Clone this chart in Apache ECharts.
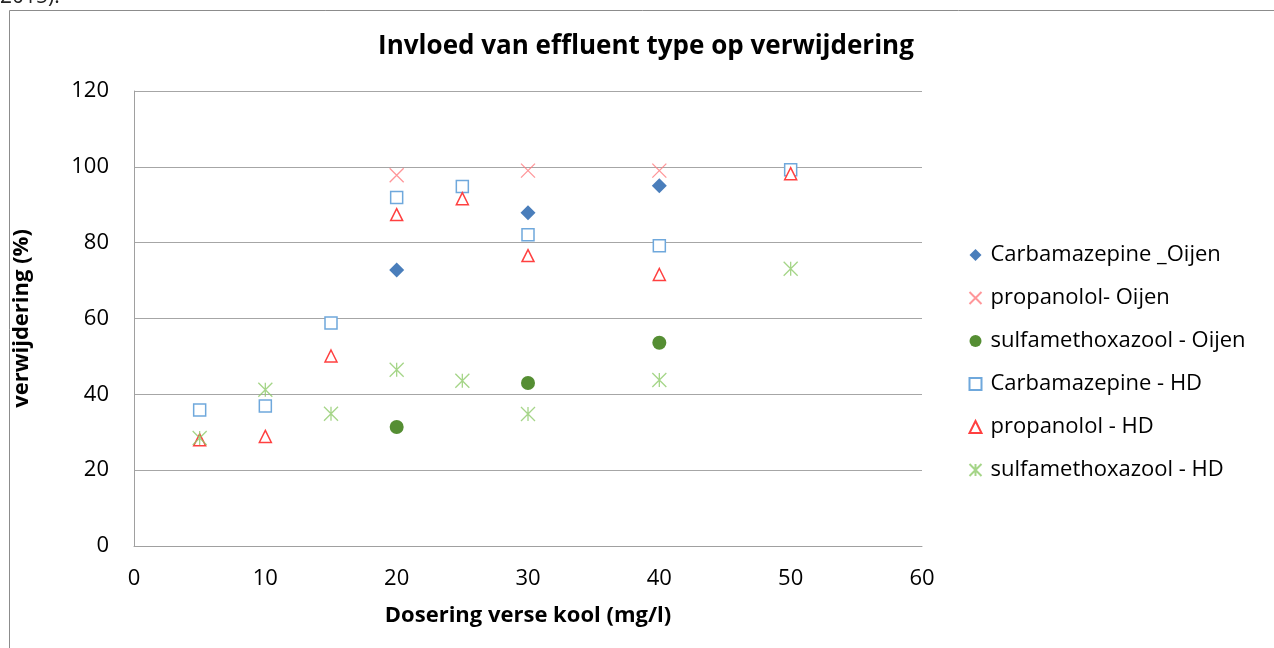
<!DOCTYPE html>
<html><head><meta charset="utf-8">
<script src="https://cdn.jsdelivr.net/npm/echarts@6/dist/echarts.min.js"></script>
<style>html,body{margin:0;padding:0;background:#fff}#c{width:1274px;height:648px}</style>
</head><body><div id="c"></div>
<script>
const seriesNames = ['Carbamazepine _Oijen','propanolol- Oijen','sulfamethoxazool - Oijen','Carbamazepine - HD','propanolol - HD','sulfamethoxazool - HD'];
const carbOijen = [[20,72.8],[30,87.9],[40,95.0]];
const propOijen = [[20,97.8],[30,99.0],[40,99.0]];
const sulfOijen = [[20,31.4],[30,43.0],[40,53.6]];
const carbHD = [[5,35.9],[10,36.9],[15,58.8],[20,91.9],[25,94.8],[30,82.1],[40,79.2],[50,99.2]];
const propHD = [[5,28.0],[10,28.9],[15,50.1],[20,87.4],[25,91.6],[30,76.6],[40,71.6],[50,98.2]];
const sulfHD = [[5,28.5],[10,41.2],[15,34.9],[20,46.5],[25,43.6],[30,34.8],[40,43.8],[50,73.1]];
const xTicks = [0,10,20,30,40,50,60];
const yTicks = [0,20,40,60,80,100,120];

const FONT = '"Open Sans", "Noto Sans", sans-serif';
const chart = echarts.init(document.getElementById('c'));
const X_PATH = 'path://M0,0L10,10M10,0L0,10';
const STAR_PATH = 'path://M0,0L10,10M10,0L0,10M5,0L5,10';
chart.setOption({
  animation:false,
  title:{text:'Invloed van effluent type op verwijdering',left:641,top:29,textAlign:'center',
    textStyle:{fontFamily:FONT,fontSize:26,fontWeight:'bold',color:'#000'}},
  graphic:[
    {type:'rect',shape:{x:9.5,y:10.5,width:1280,height:660},style:{fill:'none',stroke:'#8c8c8c',lineWidth:1}},
    {type:'text',left:0,top:-13,style:{text:'2015).',font:'21px "Open Sans", sans-serif',fill:'#222'}}
  ],
  legend:{orient:'vertical',left:962,top:237,itemGap:17,itemWidth:12,itemHeight:12,
    textStyle:{fontFamily:FONT,fontSize:22,color:'#000',lineHeight:26,padding:[0,0,0,4]},
    data:seriesNames.map(n=>({name:n}))},
  grid:{left:134,right:352,top:91,bottom:102},
  xAxis:{type:'value',min:xTicks[0],max:xTicks[xTicks.length-1],interval:10,
    name:'Dosering verse kool (mg/l)',nameLocation:'middle',nameGap:59,
    nameTextStyle:{fontFamily:FONT,fontSize:22,fontWeight:'bold',color:'#000'},
    axisLine:{lineStyle:{color:'#a0a0a0'}},axisTick:{show:false},splitLine:{show:false},
    axisLabel:{fontFamily:FONT,fontSize:22,color:'#000',margin:22}},
  yAxis:{type:'value',min:yTicks[0],max:yTicks[yTicks.length-1],interval:20,
    name:'verwijdering (%)',nameLocation:'middle',nameGap:101,
    nameTextStyle:{fontFamily:FONT,fontSize:22,fontWeight:'bold',color:'#000'},
    axisLine:{show:true,lineStyle:{color:'#a0a0a0'}},axisTick:{show:false},
    splitLine:{lineStyle:{color:'#a6a6a6',width:1}},
    axisLabel:{fontFamily:FONT,fontSize:22,color:'#000',margin:25}},
  series:[
    {name:seriesNames[0],type:'scatter',data:carbOijen,symbol:'diamond',symbolSize:15,
      itemStyle:{color:'#4A7EBB',opacity:1}},
    {name:seriesNames[1],type:'scatter',data:propOijen,symbol:X_PATH,symbolSize:14,
      itemStyle:{color:'none',borderColor:'#FF7C80',borderWidth:1.3}},
    {name:seriesNames[2],type:'scatter',data:sulfOijen,symbol:'circle',symbolSize:14,
      itemStyle:{color:'#558E33',opacity:1}},
    {name:seriesNames[3],type:'scatter',data:carbHD,symbol:'rect',symbolSize:12,
      itemStyle:{color:'#fff',borderColor:'#6FA8DC',borderWidth:1.5,opacity:1}},
    {name:seriesNames[4],type:'scatter',data:propHD,symbol:'triangle',symbolSize:12,
      itemStyle:{color:'#fff',borderColor:'#FF4040',borderWidth:1.5,opacity:1}},
    {name:seriesNames[5],type:'scatter',data:sulfHD,symbol:STAR_PATH,symbolSize:14,
      itemStyle:{color:'none',borderColor:'#8FCB6A',borderWidth:1.3}}
  ]
});
</script></body></html>
